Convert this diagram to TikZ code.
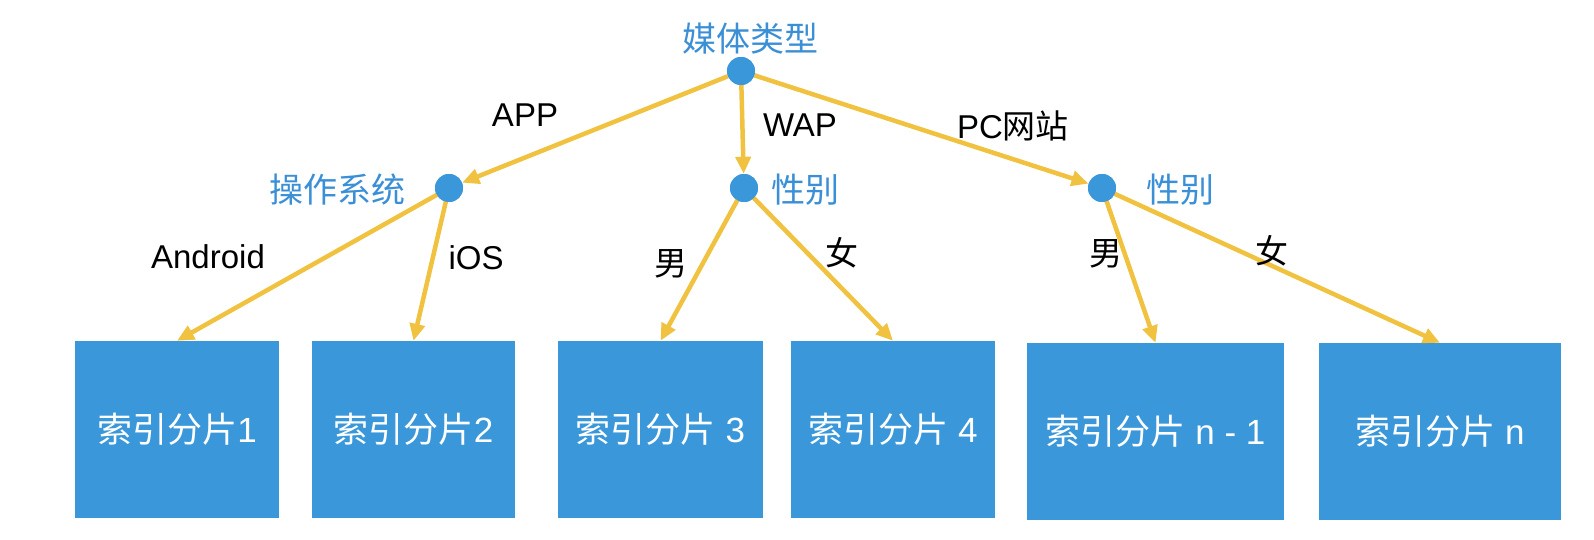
\documentclass[tikz,border=0pt]{standalone}
\usepackage{fontspec}
\setmainfont{Liberation Sans}
\newfontfamily\cjk{Noto Sans CJK SC}
\usetikzlibrary{arrows.meta}
\definecolor{boxblue}{HTML}{3A97DA}
\definecolor{lblblue}{HTML}{3A8FD6}
\definecolor{edgey}{HTML}{F0C23F}
\begin{document}
\begin{tikzpicture}[x=1pt,y=-1pt,
  dot/.style={circle,fill=boxblue,minimum size=28pt,inner sep=0pt},
  shard/.style={fill=boxblue,text=white,inner sep=0pt,minimum height=177pt,font=\fontsize{35}{40}\selectfont},
  lbl/.style={text=lblblue,inner sep=0pt,font=\cjk\fontsize{34}{40}\selectfont},
  elbl/.style={text=black,inner sep=0pt,font=\fontsize{33}{38}\selectfont},
  celbl/.style={text=black,inner sep=0pt,font=\cjk\fontsize{33}{38}\selectfont},
  edge/.style={draw=edgey,line width=4.5pt,-{Triangle[length=17pt,width=15pt]}}]
\useasboundingbox (0,0) rectangle (1594,540);
\fill[white] (0,0) rectangle (1594,540);

% boxes
\node[shard,minimum width=204pt] (b1) at (177,429.5) {{\cjk 索引分片}1};
\node[shard,minimum width=203pt] (b2) at (413.5,429.5) {{\cjk 索引分片}2};
\node[shard,minimum width=205pt] (b3) at (660.5,429.5) {{\cjk 索引分片} 3};
\node[shard,minimum width=204pt] (b4) at (893,429.5) {{\cjk 索引分片} 4};
\node[shard,minimum width=257pt] (b5) at (1155.5,431.5) {{\cjk 索引分片} n - 1};
\node[shard,minimum width=242pt] (b6) at (1440,431.5) {{\cjk 索引分片} n};

% dots
\node[dot] (root) at (741,71) {};
\node[dot] (os) at (449,188) {};
\node[dot] (g1) at (744,188) {};
\node[dot] (g2) at (1102,188) {};

% edges
\draw[edge] (root) -- (os);
\draw[edge] (root) -- (g1);
\draw[edge] (root) -- (g2);
\draw[edge] (os.center) -- (b1.north);
\draw[edge] (os.center) -- (b2.north);
\draw[edge] (g1.center) -- (b3.north);
\draw[edge] (g1.center) -- (b4.north);
\draw[edge] (g2.center) -- (b5.north);
\draw[edge] (g2.center) -- (b6.north);

% redraw dots on top of the edges
\node[dot] at (root) {};
\node[dot] at (os) {};
\node[dot] at (g1) {};
\node[dot] at (g2) {};

% node labels
\node[lbl] (lroot) at (750,39) {媒体类型};
\node[lbl] (los) at (337,190) {操作系统};
\node[lbl] (lg1) at (805,190) {性别};
\node[lbl] (lg2) at (1180,190) {性别};

% edge labels
\node[elbl] (eapp) at (525,115) {APP};
\node[elbl] (ewap) at (800,125) {WAP};
\node[elbl] (epc) at (1013,126) {PC{\cjk 网站}};
\node[elbl] (eand) at (208,257) {Android};
\node[elbl] (eios) at (476,258) {iOS};
\node[celbl] (em1) at (671,264) {男};
\node[celbl] (ef1) at (842,253) {女};
\node[celbl] (em2) at (1106,254) {男};
\node[celbl] (ef2) at (1272,251) {女};
\end{tikzpicture}
\end{document}
